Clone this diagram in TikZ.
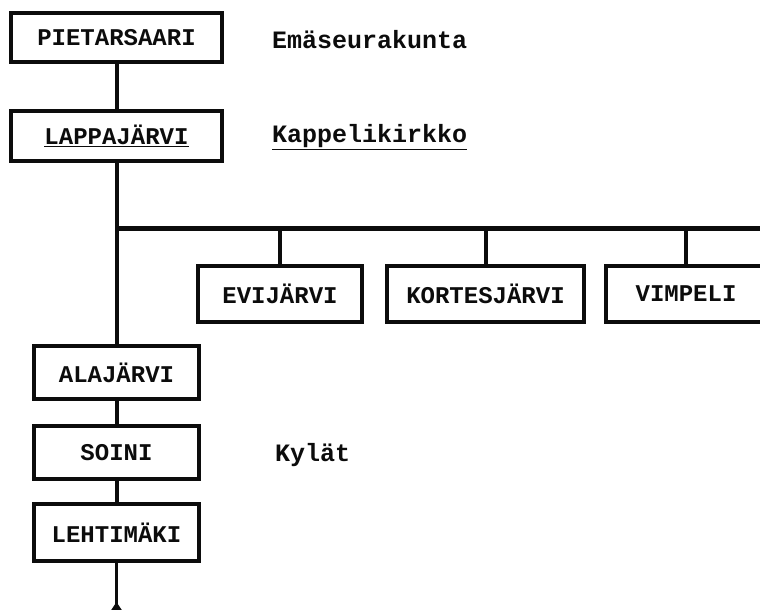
\documentclass[tikz,border=0pt]{standalone}
\usepackage{fontspec}
\usepackage{xcolor}
\usepackage{tikz}
\usetikzlibrary{arrows.meta,positioning}
\newfontfamily\parishfont{Liberation Mono}[Scale=1.0]
\newcommand{\boxfont}{\parishfont\bfseries\fontsize{24}{24}\selectfont}
\newcommand{\labelfont}{\parishfont\bfseries\fontsize{25}{25}\selectfont}
\definecolor{inkBlack}{RGB}{12,12,12}
\tikzset{
  parish/.style={draw=inkBlack, line width=4pt, inner sep=0pt, font=\boxfont, text=inkBlack},
  link/.style={draw=inkBlack, line width=4pt},
  caption/.style={anchor=west, inner sep=0pt, font=\labelfont, text=inkBlack}
}

\begin{document}
\begin{tikzpicture}[x=1pt,y=-1pt]
\useasboundingbox (0,0) rectangle (760,610);
\node[parish, minimum width=211pt, minimum height=49pt] (pietarsaari) at (116.5,37.5) {PIETARSAARI};
\node[parish, minimum width=211pt, minimum height=50pt] (lappajarvi) at (116.5,136) {\underline{LAPPAJÄRVI}};
\node[parish, minimum width=164pt, minimum height=56pt] (evijarvi) at (280,294) {EVIJÄRVI};
\node[parish, minimum width=197pt, minimum height=56pt] (kortesjarvi) at (485.5,294) {KORTESJÄRVI};
\node[parish, minimum width=160pt, minimum height=56pt] (vimpeli) at (686,294) {VIMPELI};
\node[parish, minimum width=165pt, minimum height=53pt] (alajarvi) at (116.5,372.5) {ALAJÄRVI};
\node[parish, minimum width=165pt, minimum height=53pt] (soini) at (116.5,452.5) {SOINI};
\node[parish, minimum width=165pt, minimum height=57pt] (lehtimaki) at (116.5,532.5) {LEHTIMÄKI};
\node[caption] (emase) at (272,40) {Emäseurakunta};
\node[caption] (kappeli) at (272,137) {\underline{Kappelikirkko}};
\node[caption] (kylat) at (275,455) {Kylät};
% haarautuva kisko
\coordinate (bus) at (116.5,228);
\coordinate (busend) at (762,228);
\coordinate (tail) at (116.5,610);
\draw[link] (pietarsaari) -- (lappajarvi);
\draw[link] (lappajarvi) -- (alajarvi);
\draw[link, line width=5pt] (bus) -- (busend);
\draw[link] (evijarvi.north |- bus) -- (evijarvi);
\draw[link] (kortesjarvi.north |- bus) -- (kortesjarvi);
\draw[link] (vimpeli.north |- bus) -- (vimpeli);
\draw[link] (alajarvi) -- (soini);
\draw[link] (soini) -- (lehtimaki);
\draw[link, line width=3pt, -{Triangle[reversed, length=8pt, width=10pt]}] (lehtimaki) -- (tail);
\end{tikzpicture}
\end{document}
